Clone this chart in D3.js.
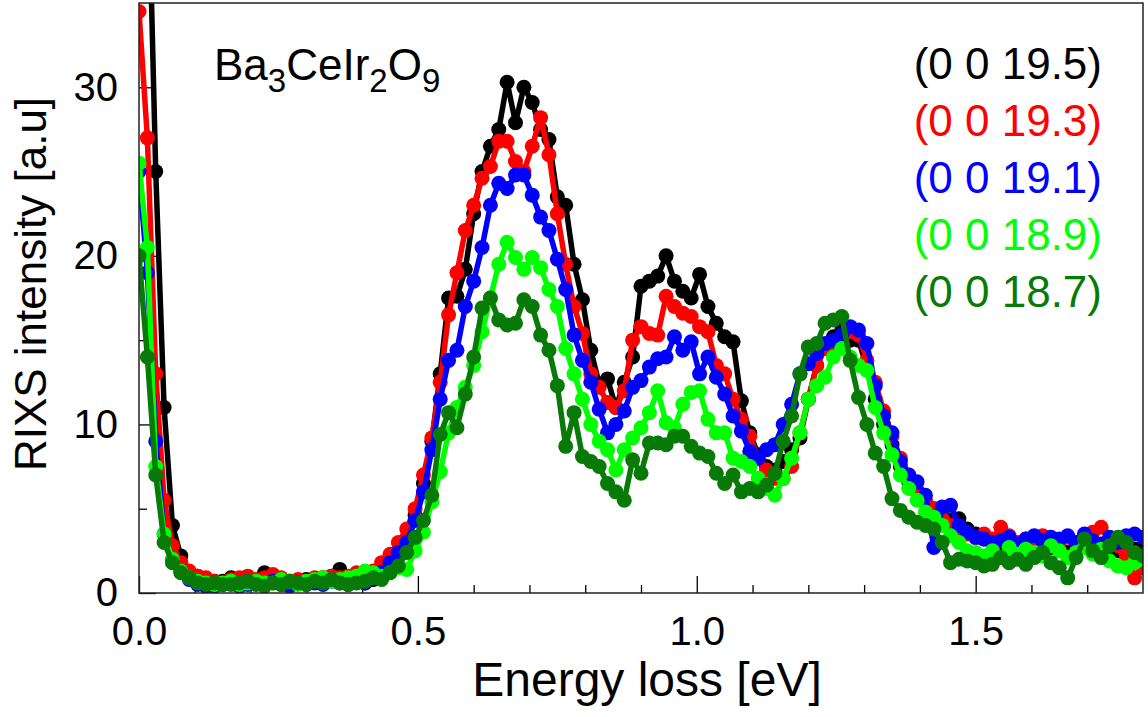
<!DOCTYPE html>
<html>
  <head>
    <meta charset="utf-8">
    <title>Ba3CeIr2O9 RIXS</title>
    <script src="https://cdnjs.cloudflare.com/ajax/libs/d3/7.8.5/d3.min.js"></script>
    <style>
      body {
        margin: 0;
        background: #fff;
        font-family: 'Liberation Sans', Arial, Helvetica, sans-serif;
      }
      .axis text {
        font-size: 40px;
        fill: #000;
      }
      .axis line {
        stroke: #000;
        stroke-width: 1.3;
      }
      .axis path {
        stroke: none;
      }
      .label {
        font-size: 44px;
        fill: #000;
      }
    </style>
  </head>
  <body>
    <svg id="chart"></svg>

    <script>
      // energy grid (eV), one point every 0.015 eV
      const energies = d3.range(121).map(i => +(i * 0.015).toFixed(3));

      // intensities [a.u] for each Q
      const q195 = [70, 45, 25, 11, 4.0, 2.2, 1.2, 1.0, 0.8, 0.7, 0.7, 0.9, 0.8, 0.9, 0.7, 1.2, 1.0, 0.8, 0.7, 0.6, 0.8, 0.7, 0.9, 1.0, 1.4, 0.9, 0.7, 0.6, 0.8,
        0.9, 1.5, 2.2, 3.2, 4.6, 6.5, 9.0, 13.0, 17.5, 17.6, 19.2, 22.5, 25.0, 26.5, 27.5, 30.3, 27.9, 30.0, 29.1, 27.5, 26.9, 23.5, 23.0, 19.5, 17.4, 14.4, 12.4, 12.7, 11.0, 12.5, 14.0,
        18.2, 18.5, 18.8, 20.0, 18.5, 17.9, 17.5, 18.9, 17.0, 16.0, 15.2, 14.9, 11.4, 9.5, 8.2, 7.5, 7.3, 7.8, 8.5, 9.2,
        11.5, 13.5, 14.5, 15.2, 15.6, 15.0, 15.0, 13.4, 11.5, 10.0, 8.8, 7.5, 6.6, 6.0, 5.4, 5.0, 4.6, 4.3, 4.4, 3.8,
        3.5, 3.2, 3.0, 2.8, 2.9, 2.7, 2.6, 2.8, 2.5, 2.7, 2.6, 2.4, 2.7, 2.8, 2.6, 2.9, 2.7, 2.5, 2.8, 2.6, 2.5];

      const q193 = [34.5, 27, 13, 5.5, 2.8, 1.8, 1.3, 1.0, 0.9, 0.7, 0.6, 0.8, 0.9, 1.0, 0.8, 0.9, 1.1, 0.9, 0.7, 0.8, 0.7, 0.9, 0.8, 1.0, 0.9, 1.0, 1.2, 1.0, 1.3,
        1.8, 2.3, 3.0, 3.8, 5.0, 7.0, 9.2, 12.5, 16.5, 19.0, 21.5, 23.0, 24.6, 25.3, 26.8, 26.8, 25.6, 25.0, 26.5, 28.2, 26.0, 22.5, 19.5, 17.0, 15.4, 13.0, 12.2, 11.3, 11.0, 12.0, 15.0,
        15.8, 15.4, 15.3, 17.6, 17.0, 16.6, 16.4, 15.8, 15.5, 13.5, 13.0, 11.5, 10.3, 9.3, 8.0, 7.3, 6.8, 6.8, 7.5, 9.5,
        11.5, 13.5, 14.5, 14.8, 15.2, 15.5, 15.3, 13.8, 12.5, 10.8, 9.3, 8.0, 7.0, 6.0, 5.5, 5.0, 4.4, 4.0, 3.8, 3.5,
        3.3, 3.5, 3.2, 3.9, 3.4, 3.0, 3.2, 3.0, 3.4, 2.9, 3.1, 3.3, 3.0, 3.2, 3.6, 3.9, 3.2, 2.8, 2.2, 0.9, 1.5];

      const q191 = [25, 19, 9.0, 3.5, 2.0, 1.3, 0.8, 0.5, 0.4, 0.4, 0.5, 0.6, 0.4, 0.5, 0.6, 0.5, 0.7, 0.5, 0.4, 0.6, 0.5, 0.6, 0.5, 0.7, 0.6, 0.5, 0.7, 0.6, 0.9,
        1.2, 1.8, 2.4, 3.0, 4.3, 6.0, 8.5, 11.5, 13.8, 14.4, 17.0, 18.5, 20.5, 23.0, 24.3, 24.0, 24.8, 24.8, 23.6, 22.3, 21.5, 19.8, 18.0, 15.3, 13.8, 12.5, 10.9, 9.5, 10.0, 10.8, 12.2,
        12.6, 13.4, 13.9, 14.0, 15.2, 14.4, 14.9, 13.0, 14.0, 12.8, 11.8, 10.5, 9.6, 8.4, 8.0, 8.5, 8.8, 10.0, 11.2, 13.0,
        13.6, 14.2, 14.8, 15.0, 15.3, 15.8, 15.6, 14.8, 12.3, 10.5, 9.5, 7.8, 7.0, 6.6, 5.8, 2.7, 5.1, 5.2, 4.0, 3.6,
        3.3, 3.2, 3.0, 3.1, 3.3, 2.9, 3.2, 3.4, 3.1, 3.3, 3.2, 3.4, 3.0, 3.5, 3.1, 2.8, 3.3, 3.0, 3.4, 3.5, 3.3];

      const q189 = [25.5, 20.5, 7.5, 3.5, 2.0, 1.3, 0.9, 0.7, 0.6, 0.5, 0.6, 0.7, 0.5, 0.6, 0.7, 0.6, 0.6, 0.8, 0.7, 0.5, 0.7, 0.8, 0.9, 0.7, 0.8, 0.9, 1.0, 1.3, 1.2,
        1.0, 1.2, 1.5, 1.4, 2.5, 3.6, 5.4, 7.2, 9.5, 11.0, 12.2, 13.5, 15.5, 17.5, 19.5, 20.8, 19.9, 19.2, 19.9, 19.3, 18.0, 17.0, 14.5, 13.0, 11.5, 10.0, 9.0, 8.5, 7.3, 8.5, 9.2,
        9.8, 10.7, 12.0, 10.1, 9.8, 11.2, 11.9, 12.0, 10.3, 9.5, 9.5, 8.0, 7.8, 7.5, 6.8, 6.2, 5.8, 6.8, 8.0, 9.5,
        11.5, 12.3, 12.8, 14.0, 14.5, 14.0, 13.5, 13.2, 11.0, 9.5, 8.2, 7.0, 6.2, 5.5, 4.8, 4.5, 4.0, 3.4, 3.0, 2.5,
        2.4, 2.2, 2.5, 2.1, 2.7, 2.3, 2.6, 2.4, 2.2, 2.8, 2.5, 2.1, 2.4, 2.7, 2.3, 2.6, 1.9, 1.6, 1.5, 1.8, 2.0];

      const q187 = [20, 14, 7.0, 3.0, 1.8, 1.2, 0.9, 0.6, 0.5, 0.6, 0.5, 0.5, 0.6, 0.7, 0.5, 0.4, 0.6, 0.5, 0.7, 0.6, 0.5, 0.7, 0.6, 0.8, 0.6, 0.5, 0.6, 0.7, 0.9,
        0.8, 1.2, 1.6, 2.4, 3.3, 4.3, 5.8, 9.4, 10.7, 9.8, 11.8, 14.0, 16.9, 17.5, 16.2, 15.9, 16.0, 17.4, 17.0, 15.3, 14.4, 12.3, 8.7, 10.7, 8.1, 7.8, 7.5, 6.5, 6.0, 5.5, 7.9,
        7.1, 8.9, 8.9, 8.8, 9.3, 9.3, 8.7, 8.3, 8.1, 7.1, 6.5, 7.0, 6.0, 6.2, 6.0, 6.4, 7.1, 9.0, 10.5, 13.0,
        14.6, 14.8, 16.0, 16.2, 16.4, 13.8, 11.6, 10.0, 8.3, 7.5, 5.6, 4.9, 4.5, 4.2, 4.0, 3.8, 3.0, 1.8, 2.0, 1.9,
        1.8, 1.6, 1.7, 2.1, 1.8, 2.0, 1.7, 2.1, 2.4, 1.8, 1.5, 0.9, 2.1, 3.2, 2.5, 2.1, 2.8, 3.3, 3.0, 2.4, 2.2];

      const seriesNames = ['(0 0 19.5)', '(0 0 19.3)', '(0 0 19.1)', '(0 0 18.9)', '(0 0 18.7)'];
      const seriesColors = ['#000000', '#ff0000', '#0000ff', '#00ff00', '#077a07'];
      const seriesValues = [q195, q193, q191, q189, q187];

      const xMajor = [0, 0.5, 1.0, 1.5];
      const xMinor = [0.1, 0.2, 0.3, 0.4, 0.6, 0.7, 0.8, 0.9, 1.1, 1.2, 1.3, 1.4, 1.6, 1.7];
      const yMajor = [0, 10, 20, 30];
      const yMinor = [5, 15, 25];

      const W = 1148, H = 717;
      const margin = {top: 3, right: 5, bottom: 124, left: 139};
      const width = W - margin.left - margin.right;
      const height = H - margin.top - margin.bottom;

      const svg = d3.select('#chart')
        .attr('width', W)
        .attr('height', H);

      const g = svg.append('g')
        .attr('transform', 'translate(' + margin.left + ',' + margin.top + ')');

      const x = d3.scaleLinear().domain([0, 1.8]).range([0, width]);
      const y = d3.scaleLinear().domain([0, 35]).range([height, 0]);

      // clip so the elastic line stops at the frame
      svg.append('defs').append('clipPath')
        .attr('id', 'plot-clip')
        .append('rect')
        .attr('width', width)
        .attr('height', height);

      // axes, ticks pointing inwards
      g.append('g')
        .attr('class', 'axis axis-x')
        .attr('transform', 'translate(0,' + height + ')')
        .call(d3.axisBottom(x).tickValues(xMajor).tickSize(-17).tickPadding(40).tickFormat(d3.format('.1f')));

      g.append('g')
        .attr('class', 'axis axis-x-minor')
        .attr('transform', 'translate(0,' + height + ')')
        .call(d3.axisBottom(x).tickValues(xMinor).tickSize(-8).tickFormat(''));

      g.append('g')
        .attr('class', 'axis axis-y')
        .call(d3.axisLeft(y).tickValues(yMajor).tickSize(-17).tickPadding(21).tickFormat(d3.format('d')));

      g.append('g')
        .attr('class', 'axis axis-y-minor')
        .call(d3.axisLeft(y).tickValues(yMinor).tickSize(-8).tickFormat(''));

      g.selectAll('.axis-x text').attr('dy', '0.3em');

      // data
      const plot = g.append('g').attr('clip-path', 'url(#plot-clip)');

      const line = d3.line()
        .x((d, i) => x(energies[i]))
        .y(d => y(d));

      seriesValues.forEach((values, k) => {
        const s = plot.append('g').attr('class', 'series');

        s.append('path')
          .datum(values)
          .attr('d', line)
          .attr('fill', 'none')
          .attr('stroke', seriesColors[k])
          .attr('stroke-width', 5.5)
          .attr('stroke-linejoin', 'round');

        s.selectAll('circle')
          .data(values)
          .enter().append('circle')
          .attr('cx', (d, i) => x(energies[i]))
          .attr('cy', d => y(d))
          .attr('r', 7.5)
          .attr('fill', seriesColors[k]);
      });

      // frame
      g.append('rect')
        .attr('width', width)
        .attr('height', height)
        .attr('fill', 'none')
        .attr('stroke', '#222')
        .attr('stroke-width', 1.5);

      // compound name
      const title = g.append('text')
        .attr('class', 'label')
        .attr('x', 214 - margin.left)
        .attr('y', 80 - margin.top);
      title.append('tspan').text('Ba');
      title.append('tspan').text('3').attr('font-size', '33px').attr('dy', 12);
      title.append('tspan').text('CeIr').attr('dy', -12);
      title.append('tspan').text('2').attr('font-size', '33px').attr('dy', 12);
      title.append('tspan').text('O').attr('dy', -12);
      title.append('tspan').text('9').attr('font-size', '33px').attr('dy', 12);

      // legend, coloured text only
      g.selectAll('.legend')
        .data(seriesNames)
        .enter().append('text')
        .attr('class', 'label legend')
        .attr('text-anchor', 'end')
        .attr('x', 1102 - margin.left)
        .attr('y', (d, i) => 79 - margin.top + i * 57)
        .style('fill', (d, i) => seriesColors[i])
        .text(d => d);

      // axis titles
      svg.append('text')
        .attr('class', 'label')
        .attr('text-anchor', 'middle')
        .attr('x', 647)
        .attr('y', 696)
        .style('font-size', '48px')
        .text('Energy loss [eV]');

      svg.append('text')
        .attr('class', 'label')
        .attr('text-anchor', 'middle')
        .attr('transform', 'translate(46,284) rotate(-90)')
        .text('RIXS intensity [a.u]');
    </script>
  </body>
</html>
